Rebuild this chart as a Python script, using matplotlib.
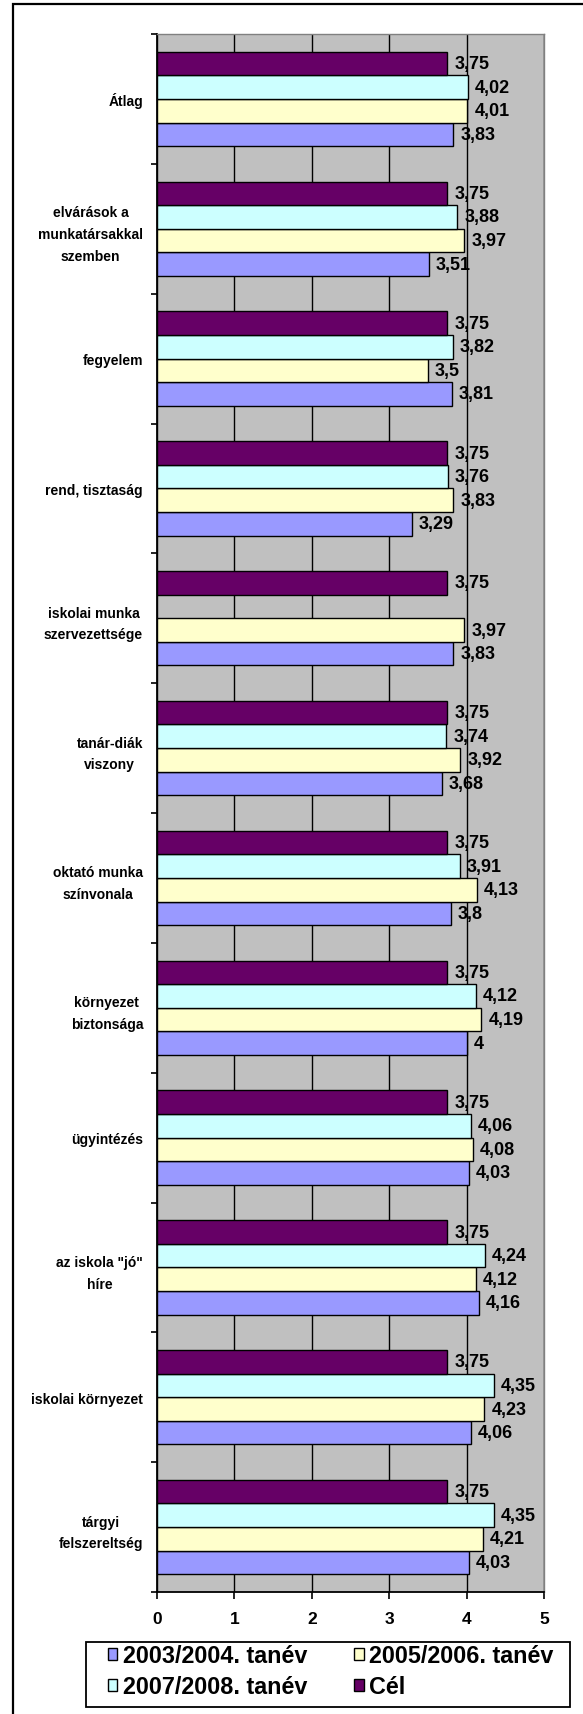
import numpy as np
import matplotlib
matplotlib.use("Agg")
import matplotlib.pyplot as plt
import matplotlib.patches as mpatches

plt.rcParams["font.family"] = ["Liberation Sans", "DejaVu Sans"]
plt.rcParams["font.weight"] = "bold"

categories = [
    "Átlag",
    "elvárások a\nmunkatársakkal\nszemben",
    "fegyelem",
    "rend, tisztaság",
    "iskolai munka\nszervezettsége",
    "tanár-diák\nviszony",
    "oktató munka\nszínvonala",
    "környezet\nbiztonsága",
    "ügyintézés",
    "az iskola \"jó\"\nhíre",
    "iskolai környezet",
    "tárgyi\nfelszereltség",
]

cel = [3.75, 3.75, 3.75, 3.75, 3.75, 3.75, 3.75, 3.75, 3.75, 3.75, 3.75, 3.75]
y0708 = [4.02, 3.88, 3.82, 3.76, np.nan, 3.74, 3.91, 4.12, 4.06, 4.24, 4.35, 4.35]
y0506 = [4.01, 3.97, 3.5, 3.83, 3.97, 3.92, 4.13, 4.19, 4.08, 4.12, 4.23, 4.21]
y0304 = [3.83, 3.51, 3.81, 3.29, 3.83, 3.68, 3.8, 4.0, 4.03, 4.16, 4.06, 4.03]

series = [
    ("2003/2004. tanév", y0304, "#9999FF"),
    ("2005/2006. tanév", y0506, "#FFFFCC"),
    ("2007/2008. tanév", y0708, "#CCFFFF"),
    ("Cél", cel, "#660066"),
]

W, H = 583, 1715
fig = plt.figure(figsize=(W / 100, H / 100), dpi=100)
ax = fig.add_axes([157 / W, 1 - 1593 / H, (544 - 157) / W, (1593 - 35) / H])
ax.set_facecolor("#C0C0C0")

# outer frame (cut off at right and bottom)
frame = mpatches.Rectangle((13 / W, -0.05), 1.2, 1.05 - 5 / H, fill=False,
                           edgecolor="black", lw=1.6, transform=fig.transFigure)
fig.patches.append(frame)

pos = np.arange(len(categories))
h = 1 / 5.5
offsets = {"Cél": -1.5 * h, "2007/2008. tanév": -0.5 * h,
           "2005/2006. tanév": 0.5 * h, "2003/2004. tanév": 1.5 * h}

handles = {}
for name, vals, color in series:
    vals = np.array(vals, dtype=float)
    ok = ~np.isnan(vals)
    b = ax.barh(pos[ok] + offsets[name], vals[ok], height=h, color=color,
                edgecolor="black", linewidth=1.0, zorder=3)
    handles[name] = b
    for y, v in zip(pos[ok] + offsets[name], vals[ok]):
        txt = f"{v:.2f}".rstrip("0").rstrip(".").replace(".", ",")
        ax.text(v + 0.09, y, txt, ha="left", va="center", fontsize=13,
                fontweight="bold", zorder=4)

ax.set_xlim(0, 5)
ax.set_ylim(len(categories) - 0.5, -0.5)
ax.set_xticks(range(6))
ax.set_xticklabels([str(i) for i in range(6)], fontsize=12.5, fontweight="bold")
ax.tick_params(axis="x", length=5, width=1.2, direction="out", pad=9)

ax.set_yticks(np.arange(len(categories) + 1) - 0.5)
ax.set_yticklabels([])
ax.tick_params(axis="y", which="major", length=4, width=1.2, direction="out")
ax.set_yticks(pos, minor=True)
ax.set_yticklabels(categories, minor=True, fontsize=10, fontweight="bold")
ax.tick_params(axis="y", which="minor", length=0, pad=10)
for lab in ax.get_yticklabels(minor=True):
    lab.set_multialignment("center")
    lab.set_linespacing(1.7)

ax.grid(axis="x", color="black", linewidth=1.0, zorder=0)
ax.set_axisbelow(True)
for s in ["left", "bottom"]:
    ax.spines[s].set_color("black")
    ax.spines[s].set_linewidth(1.3)
for s in ["top", "right"]:
    ax.spines[s].set_color("#808080")
    ax.spines[s].set_linewidth(1.0)

# legend box drawn separately, legend itself without frame
legbox = mpatches.Rectangle((86 / W, 1 - 1708 / H), (570 - 86) / W, (1708 - 1643) / H,
                            fill=False, edgecolor="black", lw=1.3,
                            transform=fig.transFigure)
fig.patches.append(legbox)

order = ["2003/2004. tanév", "2007/2008. tanév", "2005/2006. tanév", "Cél"]
leg = fig.legend([handles[k] for k in order], order, ncol=2,
                 loc="upper left", bbox_to_anchor=(108 / W, 1 - 1645 / H),
                 frameon=False, prop={"size": 16.8, "weight": "bold"},
                 handlelength=0.4, handleheight=0.4, handletextpad=0.25,
                 columnspacing=2.0, borderaxespad=0, labelspacing=0.35,
                 borderpad=0)

fig.savefig("out.png", dpi=100)
